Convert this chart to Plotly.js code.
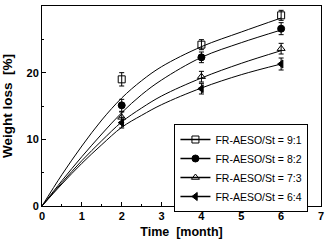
<!DOCTYPE html>
<html><head><meta charset="utf-8">
<script src="https://cdn.plot.ly/plotly-3.0.1.min.js"></script>
<style>html,body{margin:0;padding:0;background:#fff}#c{width:325px;height:246px}</style>
</head><body><div id="c"></div>
<script>
// Measured points
const timePts = [2, 4, 6];
const labels = ["FR-AESO/St = 9:1", "FR-AESO/St = 8:2", "FR-AESO/St = 7:3", "FR-AESO/St = 6:4"];
const loss91 = [19.0, 24.2, 28.6];
const loss82 = [15.1, 22.3, 26.6];
const loss73 = [13.3, 19.4, 23.6];
const loss64 = [12.5, 17.6, 21.3];
const err91 = [1.0, 0.75, 0.75];
const err82 = [0.9, 0.8, 0.9];
const err73 = [0.8, 0.8, 0.8];
const err64 = [0.8, 0.8, 0.9];
// Fitted curves
const fitTime = [0, 0.5, 1, 1.5, 2, 2.5, 3, 4, 5, 6];
const fit91 = [0, 4.7, 9.0, 12.9, 16.2, 18.8, 20.9, 23.9, 26.1, 28.2];
const fit82 = [0, 3.8, 7.4, 10.8, 14.0, 16.7, 18.9, 22.3, 24.5, 26.4];
const fit73 = [0, 3.5, 6.8, 9.8, 12.6, 14.7, 16.5, 19.2, 21.4, 23.3];
const fit64 = [0, 3.3, 6.4, 9.2, 11.8, 13.6, 15.2, 17.7, 19.7, 21.3];

const series = [
  {y: loss91, e: err91, f: fit91, sym: 'square-open'},
  {y: loss82, e: err82, f: fit82, sym: 'circle'},
  {y: loss73, e: err73, f: fit73, sym: 'triangle-up-open'},
  {y: loss64, e: err64, f: fit64, sym: 'triangle-left'}
];
const traces = [];
series.forEach((s, i) => {
  traces.push({x: fitTime, y: s.f, mode: 'lines', line: {color: 'black', width: 1, shape: 'spline', smoothing: 1}, showlegend: false, hoverinfo: 'skip'});
  traces.push({x: timePts, y: s.y, mode: 'markers', showlegend: false,
    marker: {symbol: s.sym, size: 7, color: 'black', line: {color: 'black', width: 1}},
    error_y: {type: 'data', array: s.e, visible: true, color: 'black', thickness: 1, width: 2.5}});
});
series.forEach((s, i) => {
  traces.push({x: [null], y: [null], mode: 'lines+markers', name: labels[i],
    line: {color: 'black', width: 1.5},
    marker: {symbol: s.sym, size: 7, color: 'black', line: {color: 'black', width: 1}}});
});

const tickFont = {family: 'Liberation Sans, Arial, sans-serif', size: 11, color: 'black', weight: 'bold'};
const layout = {
  width: 325, height: 246,
  margin: {l: 42, r: 4, t: 6, b: 40},
  paper_bgcolor: 'white', plot_bgcolor: 'white',
  font: {family: 'Liberation Sans, Arial, sans-serif', color: 'black'},
  xaxis: {range: [0, 7], dtick: 1, ticks: 'inside', ticklen: 4, tickwidth: 1, tickcolor: 'black',
    showline: true, linecolor: 'black', linewidth: 1, mirror: true, showgrid: false, zeroline: false,
    tickfont: tickFont,
    minor: {dtick: 0.5, ticks: 'inside', ticklen: 2, tickcolor: 'black'},
    title: {text: 'Time\u00a0\u00a0[month]', font: {family: 'Liberation Sans, Arial, sans-serif', size: 12.5, weight: 'bold', color: 'black'}, standoff: 6}},
  yaxis: {range: [0, 30], dtick: 10, ticks: 'inside', ticklen: 4, tickwidth: 1, tickcolor: 'black',
    showline: true, linecolor: 'black', linewidth: 1, mirror: true, showgrid: false, zeroline: false,
    tickfont: tickFont,
    minor: {dtick: 5, ticks: 'inside', ticklen: 2, tickcolor: 'black'},
    title: {text: 'Weight loss\u00a0\u00a0[%]', font: {family: 'Liberation Sans, Arial, sans-serif', size: 13.5, weight: 'bold', color: 'black'}, standoff: 11}},
  legend: {x: 0.955, xanchor: 'right', y: 0.41, yanchor: 'top', bgcolor: 'white',
    bordercolor: 'black', borderwidth: 1, font: {size: 10.5, color: 'black', family: 'Liberation Sans, Arial, sans-serif'},
    tracegroupgap: 0, itemwidth: 30}
};
Plotly.newPlot('c', traces, layout, {displayModeBar: false, staticPlot: true});
</script>
</body></html>
